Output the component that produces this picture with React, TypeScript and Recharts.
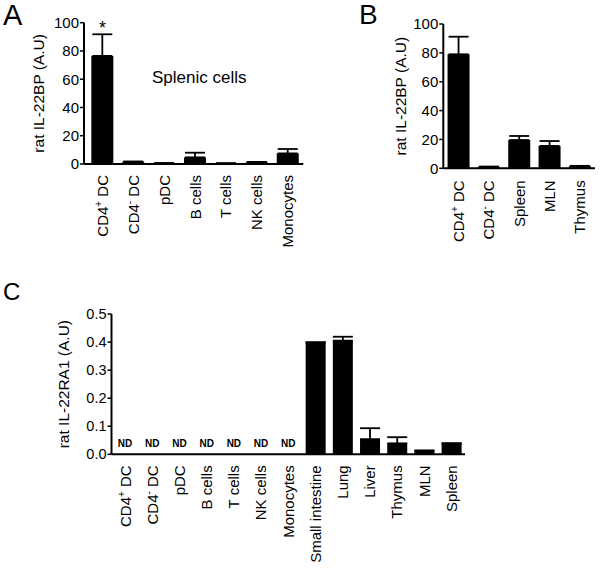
import { BarChart, Bar, XAxis, YAxis, ErrorBar, ReferenceDot } from "recharts";

const FONT = '"Liberation Sans", Arial, Helvetica, sans-serif';

// Panel A – splenic cells
const aCats = ["CD4+ DC", "CD4- DC", "pDC", "B cells", "T cells", "NK cells", "Monocytes"];
const aVals = [76.5, 1.5, 0.6, 4.7, 0.5, 1.3, 7.5];
const aErrs = [15.3, 0.3, 0, 3.3, 0, 0.2, 3.1];
const aTicks = [0, 20, 40, 60, 80, 100];

// Panel B – DC subsets and organs
const bCats = ["CD4+ DC", "CD4- DC", "Spleen", "MLN", "Thymus"];
const bVals = [79, 1, 19.6, 15.5, 1.5];
const bErrs = [12.2, 0.2, 2.8, 3.4, 0.2];
const bTicks = [0, 20, 40, 60, 80, 100];

// Panel C – IL-22RA1
const cCats = [
  "CD4+ DC", "CD4- DC", "pDC", "B cells", "T cells", "NK cells", "Monocytes",
  "Small intestine", "Lung", "Liver", "Thymus", "MLN", "Spleen",
];
const cVals = [0, 0, 0, 0, 0, 0, 0, 0.399, 0.405, 0.054, 0.039, 0.012, 0.039];
const cErrs = [0, 0, 0, 0, 0, 0, 0, 0, 0.014, 0.039, 0.022, 0.002, 0];
const cNd = [true, true, true, true, true, true, true, false, false, false, false, false, false];
const cTicks = [0, 0.1, 0.2, 0.3, 0.4, 0.5];

const rows = (cats: string[], vals: number[], errs: number[]) =>
  cats.map((name, i) => ({ name, value: vals[i], err: [0, errs[i]] }));

const aData = rows(aCats, aVals, aErrs);
const bData = rows(bCats, bVals, bErrs);
const cData = rows(cCats, cVals, cErrs);

function CatTick({ x, y, payload, gap }: any) {
  const label: string = payload.value;
  const m = label.match(/^CD4([+-]) (.*)$/);
  return (
    <text
      transform={`translate(${x},${y}) rotate(-90)`}
      textAnchor="end"
      dx={-gap}
      dy="0.36em"
      fontSize={15}
      fill="#000"
      fontFamily={FONT}
    >
      {m ? (
        <>
          CD4
          <tspan dy={-6} fontSize={10}>{m[1]}</tspan>
          <tspan dy={6}> {m[2]}</tspan>
        </>
      ) : (
        label
      )}
    </text>
  );
}

const axisLine = { stroke: "#000", strokeWidth: 2 };
const tickLine = { stroke: "#000", strokeWidth: 1.5 };

function yLabel(value: string, dx: number) {
  return { value, angle: -90, position: "center" as const, dx, fontSize: 15.5, fill: "#000", fontFamily: FONT };
}

const letter = (text: string, left: number, top: number, size: number) => (
  <div style={{ position: "absolute", left, top, fontSize: size, lineHeight: 1, color: "#000" }}>{text}</div>
);

export default function App() {
  return (
    <div style={{ position: "absolute", left: 0, top: 0, width: 601, height: 571, background: "#fff", fontFamily: FONT }}>
      <div style={{ position: "absolute", left: 0, top: 0 }}>
        <BarChart width={310} height={260} data={aData} barCategoryGap="14%" margin={{ top: 22.7, right: 6.7, bottom: 6, left: 0 }}>
          <XAxis
            dataKey="name"
            interval={0}
            height={90}
            padding={{ left: 3, right: 0 }}
            axisLine={axisLine}
            tickLine={false}
            tickSize={0}
            tickMargin={0}
            tick={<CatTick gap={11} />}
          />
          <YAxis
            width={84}
            domain={[0, 100]}
            ticks={aTicks}
            interval={0}
            axisLine={axisLine}
            tickLine={tickLine}
            tickSize={4}
            tickMargin={1}
            tick={{ fill: "#000", fontSize: 15, fontFamily: FONT }}
            label={yLabel("rat IL-22BP (A.U)", -3.5)}
          />
          <Bar dataKey="value" fill="#000" isAnimationActive={false}>
            <ErrorBar dataKey="err" width={10} strokeWidth={1.8} stroke="#000" direction="y" isAnimationActive={false} />
          </Bar>
          <ReferenceDot
            x={aCats[0]}
            y={aVals[0] + aErrs[0]}
            r={0}
            fill="none"
            stroke="none"
            label={{ value: "*", position: "top", offset: 0, fontSize: 18, fill: "#000", fontFamily: FONT }}
          />
        </BarChart>
      </div>

      <div style={{ position: "absolute", left: 355, top: 0 }}>
        <BarChart width={245} height={260} data={bData} barCategoryGap="14%" margin={{ top: 24, right: 5, bottom: 1.7, left: 0 }}>
          <XAxis
            dataKey="name"
            interval={0}
            height={90}
            axisLine={axisLine}
            tickLine={false}
            tickSize={0}
            tickMargin={0}
            tick={<CatTick gap={12} />}
          />
          <YAxis
            width={88.3}
            domain={[0, 100]}
            ticks={bTicks}
            interval={0}
            axisLine={axisLine}
            tickLine={tickLine}
            tickSize={4}
            tickMargin={1}
            tick={{ fill: "#000", fontSize: 15, fontFamily: FONT }}
            label={yLabel("rat IL-22BP (A.U)", 1)}
          />
          <Bar dataKey="value" fill="#000" isAnimationActive={false}>
            <ErrorBar dataKey="err" width={10} strokeWidth={1.8} stroke="#000" direction="y" isAnimationActive={false} />
          </Bar>
        </BarChart>
      </div>

      <div style={{ position: "absolute", left: 0, top: 290 }}>
        <BarChart width={475} height={281} data={cData} barCategoryGap="14%" margin={{ top: 24, right: 10, bottom: 6.7, left: 0 }}>
          <XAxis
            dataKey="name"
            interval={0}
            height={110}
            axisLine={axisLine}
            tickLine={false}
            tickSize={0}
            tickMargin={0}
            tick={<CatTick gap={11} />}
          />
          <YAxis
            width={111.5}
            domain={[0, 0.5]}
            ticks={cTicks}
            interval={0}
            axisLine={axisLine}
            tickLine={tickLine}
            tickSize={4}
            tickMargin={1}
            tickFormatter={(v: number) => v.toFixed(1)}
            tick={{ fill: "#000", fontSize: 14.5, fontFamily: FONT }}
            label={yLabel("rat IL-22RA1 (A.U)", 8)}
          />
          <Bar dataKey="value" fill="#000" isAnimationActive={false}>
            <ErrorBar dataKey="err" width={10} strokeWidth={1.8} stroke="#000" direction="y" isAnimationActive={false} />
          </Bar>
          {cCats.map((c, i) =>
            cNd[i] ? (
              <ReferenceDot
                key={c}
                x={c}
                y={0}
                r={0}
                fill="none"
                stroke="none"
                label={{ value: "ND", position: "top", offset: 7, fontSize: 10, fontWeight: "bold", fill: "#000", fontFamily: FONT }}
              />
            ) : null
          )}
        </BarChart>
      </div>

      {letter("A", 3, 1, 29)}
      {letter("B", 359, 1, 28)}
      {letter("C", 3, 280, 24)}
      <div style={{ position: "absolute", left: 152, top: 69, fontSize: 17, lineHeight: 1, color: "#000" }}>Splenic cells</div>
    </div>
  );
}
